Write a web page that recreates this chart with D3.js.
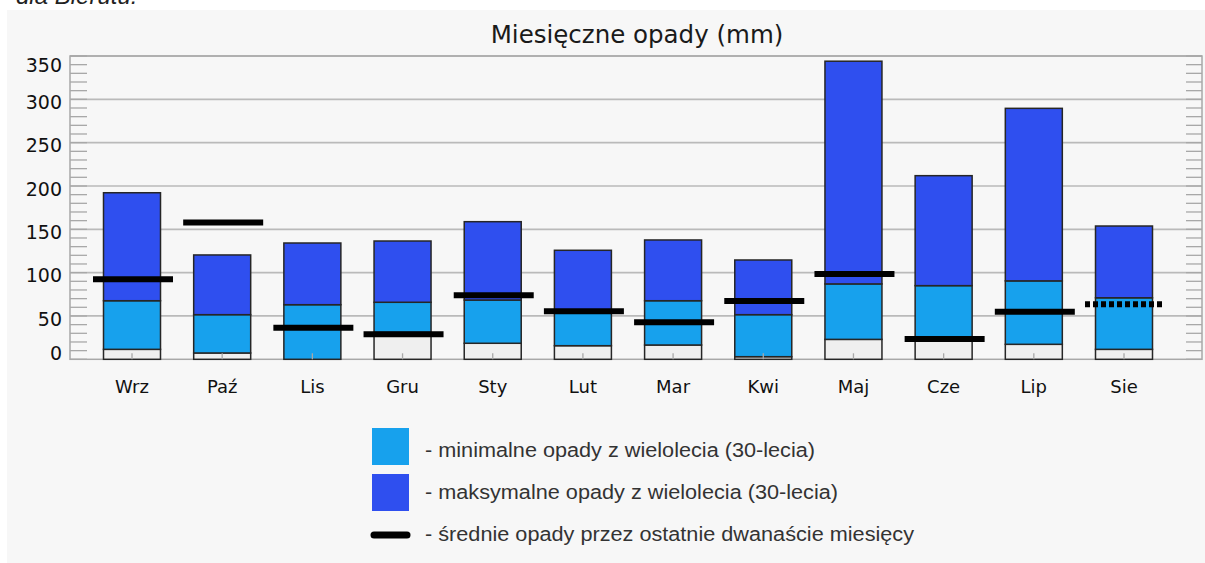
<!DOCTYPE html>
<html>
<head>
<meta charset="utf-8">
<script src="https://cdn.jsdelivr.net/npm/d3@7/dist/d3.min.js"></script>
<style>
  body { margin: 0; background: #fff; }
  svg { display: block; }
</style>
</head>
<body>
<div id="chart"></div>
<script>
// data (mm)
const months = ["Wrz", "Paź", "Lis", "Gru", "Sty", "Lut", "Mar", "Kwi", "Maj", "Cze", "Lip", "Sie"];
const baseTop = [11.5, 7.3, 0, 31, 18.5, 15.7, 16.5, 3, 23, 25, 17.3, 11.5];
const minTop = [67.6, 51.5, 63, 65.8, 68.4, 55, 67.6, 51.5, 87, 85, 90.5, 71];
const maxTop = [192.2, 120.4, 134.2, 136.5, 158.8, 125.8, 137.7, 114.6, 344, 211.9, 289.6, 153.8];
const avg12 = [92.3, 158, 36.5, 28.8, 73.8, 55.4, 42.7, 67.3, 98.4, 23.4, 55, 63.5];
const partialMonth = "Sie"; // drawn dotted
const yTicks = [0, 50, 100, 150, 200, 250, 300, 350];
const legendLabels = [
  "- minimalne opady z wielolecia (30-lecia)",
  "- maksymalne opady z wielolecia (30-lecia)",
  "- średnie opady przez ostatnie dwanaście miesięcy"
];

const W = 1205, H = 563;
const plot = { left: 70, right: 1202, top: 56, bottom: 359.3 };
const colors = { base: "#efefef", min: "#17a1ed", max: "#2f4fef" };
const barW = 57;

const svg = d3.select("#chart").append("svg")
  .attr("width", W)
  .attr("height", H);

// page bits
svg.append("text")
  .attr("x", 16).attr("y", 4)
  .style("font-family", "Liberation Sans, Arial, sans-serif")
  .style("font-style", "italic")
  .style("font-size", "24px")
  .attr("fill", "#222")
  .text("dla Bierutu.");

svg.append("rect")
  .attr("x", 7).attr("y", 10)
  .attr("width", W - 7).attr("height", H - 10)
  .attr("fill", "#f7f7f7");

const y = d3.scaleLinear().domain([0, 350]).range([plot.bottom, plot.top]);
const x = d3.scalePoint().domain(months).range([132, 1124]);

// title
svg.append("text")
  .attr("x", 637).attr("y", 43)
  .attr("text-anchor", "middle")
  .style("font-family", "DejaVu Sans, sans-serif")
  .style("font-size", "24.5px")
  .attr("fill", "#1a1a1a")
  .text("Miesięczne opady (mm)");

// grid lines
svg.append("g").selectAll("line")
  .data(yTicks.slice(1))
  .enter().append("line")
  .attr("x1", plot.left).attr("x2", plot.right)
  .attr("y1", d => y(d)).attr("y2", d => y(d))
  .attr("stroke", "#bababa")
  .attr("stroke-width", 1.7);

// minor ticks every 10 on both sides
const minor = d3.range(0, 351, 10);
const tickG = svg.append("g").attr("stroke", "#a8a8a8").attr("stroke-width", 1.3);
tickG.selectAll(".tl").data(minor).enter().append("line")
  .attr("x1", plot.left).attr("x2", plot.left + 17)
  .attr("y1", d => y(d)).attr("y2", d => y(d));
tickG.selectAll(".tr").data(minor).enter().append("line")
  .attr("x1", plot.right - 16).attr("x2", plot.right)
  .attr("y1", d => y(d)).attr("y2", d => y(d));

// frame
svg.append("rect")
  .attr("x", plot.left).attr("y", plot.top)
  .attr("width", plot.right - plot.left).attr("height", plot.bottom - plot.top)
  .attr("fill", "none")
  .attr("stroke", "#a8a8a8")
  .attr("stroke-width", 1.5);

// y labels (sit a little below their lines, kept inside the frame)
svg.append("g").selectAll("text")
  .data(yTicks)
  .enter().append("text")
  .attr("x", 62)
  .attr("y", d => Math.min(353.5, Math.max(65, y(d) + 3)))
  .attr("dy", "0.36em")
  .attr("text-anchor", "end")
  .style("font-family", "DejaVu Sans, sans-serif")
  .style("font-size", "19px")
  .attr("fill", "#111")
  .text(d => d);

// bars: three stacked segments per month
const rows = months.map((m, i) => ({
  month: m,
  segs: [
    { lo: 0, hi: baseTop[i], fill: colors.base },
    { lo: baseTop[i], hi: minTop[i], fill: colors.min },
    { lo: minTop[i], hi: maxTop[i], fill: colors.max }
  ].filter(s => s.hi > s.lo),
  avg: avg12[i]
}));

const barG = svg.append("g").selectAll("g")
  .data(rows)
  .enter().append("g");

barG.selectAll("rect")
  .data(d => d.segs.map(s => Object.assign({ month: d.month }, s)))
  .enter().append("rect")
  .attr("x", d => x(d.month) - barW / 2)
  .attr("width", barW)
  .attr("y", d => y(d.hi))
  .attr("height", d => y(d.lo) - y(d.hi))
  .attr("fill", d => d.fill)
  .attr("stroke", "#262626")
  .attr("stroke-width", 1.5);

// x ticks at bar centres
svg.append("g").selectAll("line")
  .data(months)
  .enter().append("line")
  .attr("x1", d => x(d)).attr("x2", d => x(d))
  .attr("y1", plot.bottom).attr("y2", plot.bottom - 6)
  .attr("stroke", "#a8a8a8")
  .attr("stroke-width", 1.3);

// 12-month average marks
svg.append("g").selectAll("line")
  .data(rows)
  .enter().append("line")
  .attr("x1", d => x(d.month) - 39)
  .attr("x2", d => x(d.month) + 41)
  .attr("y1", d => y(d.avg)).attr("y2", d => y(d.avg))
  .attr("stroke", "#000")
  .attr("stroke-width", 6)
  .attr("stroke-dasharray", d => d.month === partialMonth ? "5,3" : null);

// month labels
svg.append("g").selectAll("text")
  .data(months)
  .enter().append("text")
  .attr("x", d => x(d))
  .attr("y", 393)
  .attr("text-anchor", "middle")
  .style("font-family", "DejaVu Sans, sans-serif")
  .style("font-size", "18px")
  .attr("fill", "#111")
  .text(d => d);

// legend
const legend = svg.append("g");
legend.append("rect")
  .attr("x", 372).attr("y", 428).attr("width", 37).attr("height", 37)
  .attr("fill", colors.min);
legend.append("rect")
  .attr("x", 372).attr("y", 474).attr("width", 37).attr("height", 37)
  .attr("fill", colors.max);
legend.append("line")
  .attr("x1", 374).attr("x2", 407)
  .attr("y1", 535).attr("y2", 535)
  .attr("stroke", "#000")
  .attr("stroke-width", 7)
  .attr("stroke-linecap", "round");

const legendY = [457, 499, 541];
const legendLen = [390, 413, 489];
legend.selectAll("text")
  .data(legendLabels)
  .enter().append("text")
  .attr("x", 425)
  .attr("y", (d, i) => legendY[i])
  .attr("textLength", (d, i) => legendLen[i])
  .attr("lengthAdjust", "spacingAndGlyphs")
  .style("font-family", "Liberation Sans, Arial, sans-serif")
  .style("font-size", "20px")
  .attr("fill", "#333")
  .text(d => d);
</script>
</body>
</html>
